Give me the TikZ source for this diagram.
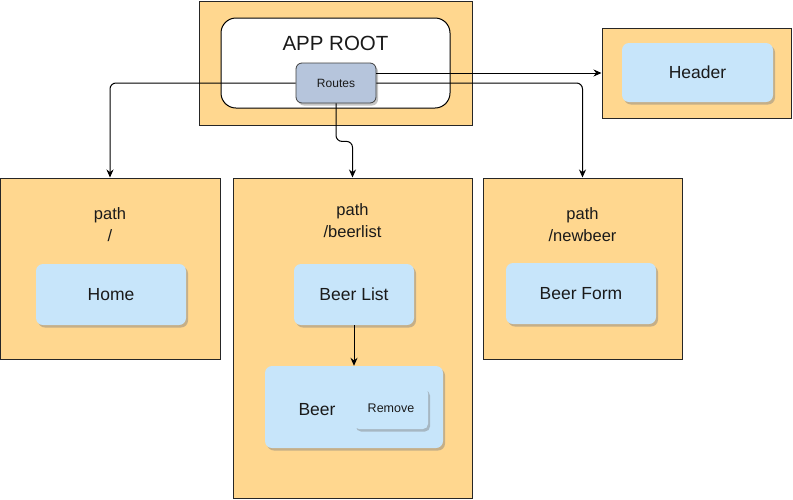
\documentclass[tikz,border=0pt]{standalone}
\usepackage{fontspec}
\setmainfont{Liberation Sans}
\usetikzlibrary{arrows.meta,shadows,calc}
\definecolor{orangefill}{HTML}{FFD78F}
\definecolor{bluefill}{HTML}{C7E5FA}
\definecolor{routefill}{HTML}{B6C5DC}
\definecolor{txt}{HTML}{1A1A1A}
\tikzset{
  container/.style={draw=black!85, fill=orangefill, line width=1pt, minimum width=#1},
  myshadow/.style={drop shadow={shadow xshift=2pt, shadow yshift=-2.5pt, fill=black!50, opacity=0.45}},
  comp/.style={fill=bluefill, rounded corners=7pt, text=txt, font=\fontsize{17.5}{20}\selectfont, myshadow},
  lbl/.style={text=txt, align=center, font=\fontsize{16.5}{22}\selectfont},
  conn/.style={draw=black, line width=1pt, rounded corners=6pt, -{Stealth[length=8pt,width=7pt]}},
}
\begin{document}
\begin{tikzpicture}[x=1pt,y=-1pt]
\useasboundingbox (0,0) rectangle (793,499);
% App root
\node[container=273pt, minimum height=124pt] (approot) at (335.5,63) {};
\node[draw=black, fill=white, line width=1pt, rounded corners=15pt, minimum width=229pt, minimum height=90pt] (inner) at (335.5,63) {};
\node[text=txt, font=\fontsize{20.5}{24}\selectfont] (apptitle) at (335.5,43.5) {APP ROOT};
\node[draw=black!75, fill=routefill, line width=0.8pt, rounded corners=6pt, minimum width=80pt, minimum height=40pt,
      text=txt, font=\fontsize{12}{14}\selectfont, myshadow] (routes) at (336,83) {Routes};
% Header
\node[container=189pt, minimum height=90pt] (hdrbox) at (696.5,73) {};
\node[comp, minimum width=151pt, minimum height=59pt] (header) at (697.5,72.5) {Header};
% Home
\node[container=220pt, minimum height=181pt] (homebox) at (110,268.5) {};
\node[lbl] (homelbl) at (110,225) {path\\/};
\node[comp, minimum width=150pt, minimum height=61pt] (home) at (111,294.5) {Home};
% Beer list
\node[container=239pt, minimum height=320pt] (listbox) at (352.5,338) {};
\node[lbl] (listlbl) at (352.5,221) {path\\/beerlist};
\node[comp, minimum width=120pt, minimum height=61pt] (beerlist) at (354,294.5) {Beer List};
\node[comp, minimum width=178pt, minimum height=82pt] (beer) at (354,407) {};
\node[text=txt, font=\fontsize{17.5}{20}\selectfont] (beerlbl) at (317,410) {Beer};
\node[fill=bluefill, rounded corners=5pt, minimum width=74pt, minimum height=41pt, text=txt,
      font=\fontsize{12.5}{14}\selectfont, myshadow] (remove) at (391,408.5) {Remove};
% New beer
\node[container=199pt, minimum height=181pt] (newbox) at (582.5,268.5) {};
\node[lbl] (newlbl) at (582.5,225) {path\\/newbeer};
\node[comp, minimum width=150pt, minimum height=61pt] (beerform) at (581,293.5) {Beer Form};
% Connectors
\draw[conn] (routes.west) -| (homebox.north);
\draw[conn] (routes.east |- hdrbox.west) -- (hdrbox.west);
\draw[conn] (routes.east) -| (newbox.north);
\draw[conn] (routes.south) -- ++(0,38) -| (listbox.north);
\draw[conn] (beerlist.south) -- (beer.north);
\end{tikzpicture}
\end{document}
